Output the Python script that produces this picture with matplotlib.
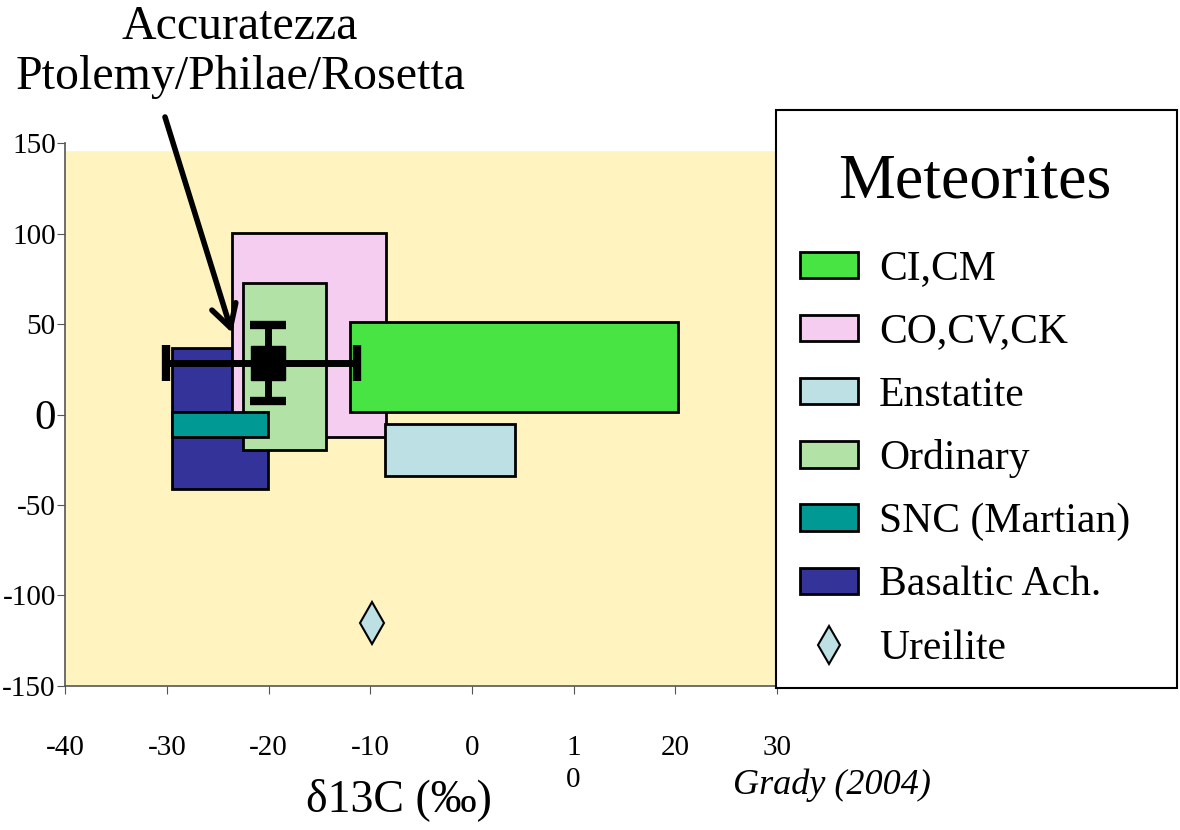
import matplotlib
matplotlib.use("Agg")
import matplotlib.pyplot as plt
from matplotlib.patches import Rectangle, Patch
from matplotlib.lines import Line2D

plt.rcParams['font.family'] = ['Liberation Serif', 'DejaVu Serif']

# meteorite groups: name, (x min, x max), (y min, y max), colour
names = ["CI,CM", "CO,CV,CK", "Enstatite", "Ordinary", "SNC (Martian)", "Basaltic Ach."]
x_lo = [-12.0, -23.6, -8.6, -22.5, -29.5, -29.5]
x_hi = [20.3, -8.5, 4.2, -14.4, -20.1, -20.1]
y_lo = [1.5, -12.5, -34.0, -19.5, -12.5, -41.0]
y_hi = [51.0, 100.5, -5.5, 72.5, 1.5, 37.0]
colors = ["#48e444", "#f5cdf0", "#bce0e3", "#b2e2a6", "#009994", "#333399"]
layer = [5, 2, 5, 3, 4, 1]

# ureilite point
ure_x = [-9.8]
ure_y = [-115.0]

# Ptolemy/Philae/Rosetta accuracy
acc_x = -20.1
acc_y = 28.5
acc_xerr = [[10.0], [8.8]]
acc_yerr = 21.0

xticks = [-40, -30, -20, -10, 0, 10, 20, 30]
xticklabels = ["-40", "-30", "-20", "-10", "0", "1\n0", "20", "30"]
yticks = [-150, -100, -50, 0, 50, 100, 150]

fig = plt.figure(figsize=(11.8, 8.3), dpi=100)
ax = fig.add_axes([0.0555, 0.1735, 0.6028, 0.6542])
ax.set_facecolor("#fff3bf")
ax.axhspan(146, 150, color="white", zorder=0)

for i in range(len(names)):
    ax.add_patch(Rectangle((x_lo[i], y_lo[i]), x_hi[i] - x_lo[i], y_hi[i] - y_lo[i],
                           facecolor=colors[i], edgecolor="black", lw=2, zorder=layer[i]))

ax.plot(ure_x, ure_y, marker="d", ms=21, mfc="#bce0e3", mec="black", mew=1.5,
        ls="none", zorder=6)

ax.errorbar(acc_x, acc_y, xerr=acc_xerr, yerr=acc_yerr, fmt="s", color="black",
            ms=24, elinewidth=5, capsize=13, capthick=6, zorder=10)

ax.set_xlim(-40, 30)
ax.set_ylim(-150, 150)
ax.set_xticks(xticks)
ax.set_xticklabels(xticklabels, linespacing=1.3)
ax.set_yticks(yticks)
ax.set_yticklabels([str(v) for v in yticks])
for s in ["top", "right"]:
    ax.spines[s].set_visible(False)
for s in ["left", "bottom"]:
    ax.spines[s].set_color("#555555")
    ax.spines[s].set_linewidth(1.2)
ax.tick_params(axis="both", direction="out", length=6, color="#555555", labelsize=21)
ax.tick_params(axis="x", pad=29)
ax.tick_params(axis="y", pad=1)
for lab in ax.get_yticklabels():
    if lab.get_text() == "0":
        lab.set_fontsize(31)

fig.text(399 / 1180, 1 - 800 / 830, "\u03b413C (\u2030)", fontsize=33,
         ha="center", va="center")
fig.text(832 / 1180, 1 - 785 / 830, "Grady (2004)", fontsize=26, style="italic",
         ha="center", va="center")

fig.text(240 / 1180, 1 - 52 / 830, "Accuratezza\nPtolemy/Philae/Rosetta", fontsize=34.5,
         ha="center", va="center", linespacing=1.15)
ax.annotate("", xy=(-23.6, 45), xycoords="data",
            xytext=(165 / 1180, 1 - 117 / 830), textcoords="figure fraction",
            arrowprops=dict(arrowstyle="->,head_length=0.8,head_width=0.45",
                            mutation_scale=20, lw=4, color="black",
                            shrinkA=0, shrinkB=0), zorder=12,
            annotation_clip=False)

# legend box with its own title
fig.patches.append(Rectangle((776 / 1180, 1 - 688 / 830), 401 / 1180, 578 / 830,
                             transform=fig.transFigure, facecolor="white",
                             edgecolor="black", lw=1.5, zorder=0))
fig.text(975 / 1180, 1 - 182 / 830, "Meteorites", fontsize=46, ha="center", va="center")

handles = [Patch(facecolor=c, edgecolor="black", lw=2) for c in colors]
handles.append(Line2D([], [], marker="d", ms=19, mfc="#bce0e3", mec="black",
                      mew=1.5, ls="none"))
leg = fig.legend(handles, names + ["Ureilite"], loc="upper left",
                 bbox_to_anchor=(800 / 1180, 1 - 250 / 830), fontsize=30,
                 frameon=False, handlelength=1.4, handleheight=0.6,
                 handletextpad=0.5, labelspacing=0.59, borderpad=0,
                 borderaxespad=0)

fig.savefig("out.png", dpi=100)
